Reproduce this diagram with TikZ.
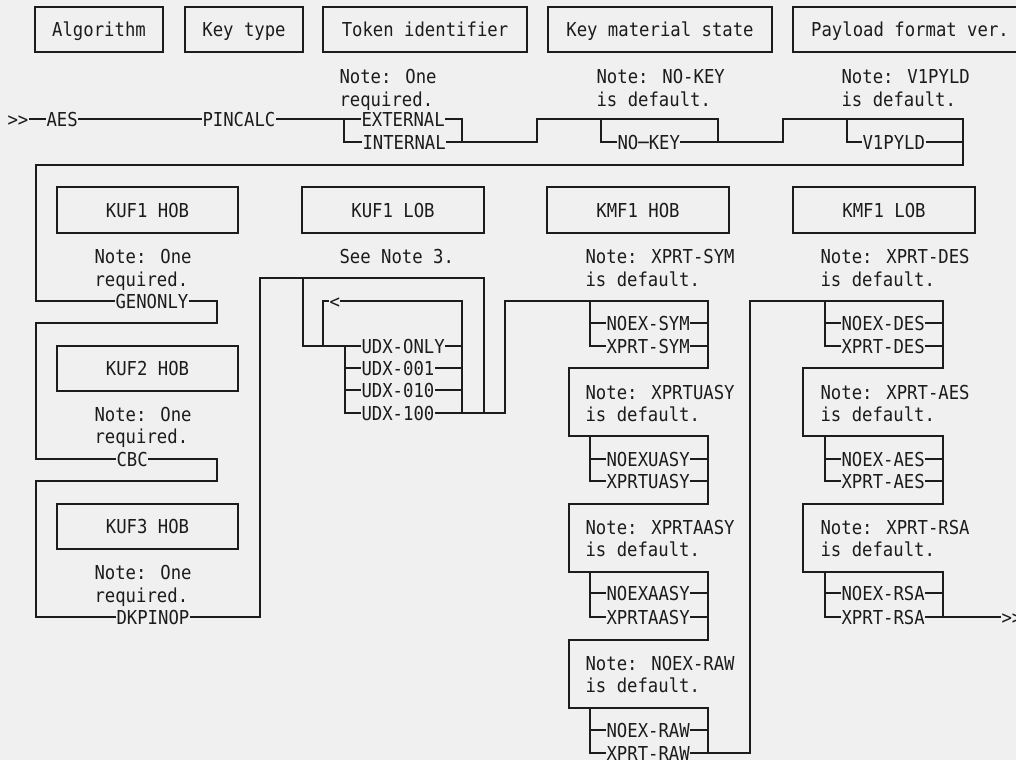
\documentclass[tikz,border=0pt]{standalone}
\usepackage{fontspec}
\newfontfamily\rrmono[FakeStretch=0.9]{DejaVu Sans Mono}
\definecolor{bg}{HTML}{F0F0F0}
\definecolor{ink}{HTML}{1C1C1C}
\newcommand\kbox[6]{\node[bx, minimum width={0.75pt*(#4-#2)}, minimum height={0.75pt*(#5-#3)}] (#1) at ({(#2+#4)/2},{(#3+#5)/2}) {#6};}
\newcommand\mytx[4]{\node[txt] (#1) at (#2,#3) {#4};}
\begin{document}
\begin{tikzpicture}[x=0.75pt,y=-0.75pt, line width=0.8pt, color=ink,
  txt/.style={inner sep=0pt, font={\rrmono\fontsize{14.4pt}{17pt}\selectfont}, text height=10.5pt, text depth=0pt, anchor=west},
  bx/.style={draw, inner sep=0pt, font={\rrmono\fontsize{14.4pt}{17pt}\selectfont}, text height=10.5pt, text depth=0pt}]
\fill[bg] (0,0) rectangle (1016,760);
\useasboundingbox (0,0) rectangle (1016,760);

% ---------- top header boxes ----------
\kbox{balg}{35}{7}{163}{52}{Algorithm}
\kbox{bkey}{185}{7}{303}{52}{Key type}
\kbox{btok}{323}{7}{527}{52}{Token identifier}
\kbox{bkms}{548}{7}{772}{52}{Key material state}
\kbox{bpay}{793}{7}{1027}{52}{Payload format ver.}

\mytx{naa}{339}{76}{Note: One}
\mytx{nab}{339}{99}{required.}
\mytx{nba}{596}{76}{Note: NO-KEY}
\mytx{nbb}{596}{99}{is default.}
\mytx{nca}{841}{76}{Note: V1PYLD}
\mytx{ncb}{841}{99}{is default.}

% ---------- main row ----------
\mytx{start}{7}{119}{>>}
\mytx{aes}{46}{119}{AES}
\mytx{pin}{202}{119}{PINCALC}
\mytx{ext}{361}{119}{EXTERNAL}
\mytx{int}{362}{142}{INTERNAL}
\mytx{nokey}{617}{142}{NO─KEY}
\mytx{vone}{862}{142}{V1PYLD}

% ---------- left column ----------
\kbox{bkufa}{57}{187}{238}{233}{KUF1 HOB}
\mytx{kaa}{94}{256}{Note: One}
\mytx{kab}{94}{279}{required.}
\mytx{gen}{115}{301}{GENONLY}
\kbox{bkufb}{57}{346}{238}{391}{KUF2 HOB}
\mytx{kba}{94}{414}{Note: One}
\mytx{kbb}{94}{436}{required.}
\mytx{cbc}{116}{459}{CBC}
\kbox{bkufc}{57}{504}{238}{549}{KUF3 HOB}
\mytx{kca}{94}{572}{Note: One}
\mytx{kcb}{94}{595}{required.}
\mytx{dk}{116}{617}{DKPINOP}

% ---------- KUF1 LOB ----------
\kbox{bkufl}{302}{187}{484}{233}{KUF1 LOB}
\mytx{see}{339}{256}{See Note 3.}
\mytx{lt}{329}{301}{<}
\mytx{udxo}{361}{346}{UDX-ONLY}
\mytx{uone}{361}{368}{UDX-001}
\mytx{utwo}{361}{390}{UDX-010}
\mytx{uthr}{361}{413}{UDX-100}

% ---------- KMF1 HOB ----------
\kbox{bkmfh}{547}{187}{729}{233}{KMF1 HOB}
\mytx{mha}{585}{256}{Note: XPRT-SYM}
\mytx{mhb}{585}{279}{is default.}
\mytx{nsym}{606}{323}{NOEX-SYM}
\mytx{xsym}{606}{346}{XPRT-SYM}
\mytx{mua}{585}{392}{Note: XPRTUASY}
\mytx{mub}{585}{414}{is default.}
\mytx{nuas}{606}{459}{NOEXUASY}
\mytx{xuas}{606}{481}{XPRTUASY}
\mytx{maa}{585}{527}{Note: XPRTAASY}
\mytx{mab}{585}{549}{is default.}
\mytx{naas}{606}{593}{NOEXAASY}
\mytx{xaas}{606}{617}{XPRTAASY}
\mytx{mra}{585}{663}{Note: NOEX-RAW}
\mytx{mrb}{585}{685}{is default.}
\mytx{nraw}{606}{730}{NOEX-RAW}
\mytx{xraw}{606}{753}{XPRT-RAW}

% ---------- KMF1 LOB ----------
\kbox{bkmfl}{793}{187}{975}{233}{KMF1 LOB}
\mytx{mla}{820}{256}{Note: XPRT-DES}
\mytx{mlb}{820}{279}{is default.}
\mytx{ndes}{841}{323}{NOEX-DES}
\mytx{xdes}{841}{346}{XPRT-DES}
\mytx{mea}{820}{392}{Note: XPRT-AES}
\mytx{meb}{820}{414}{is default.}
\mytx{naes}{841}{459}{NOEX-AES}
\mytx{xaes}{841}{481}{XPRT-AES}
\mytx{msa}{820}{527}{Note: XPRT-RSA}
\mytx{msb}{820}{549}{is default.}
\mytx{nrsa}{841}{593}{NOEX-RSA}
\mytx{xrsa}{841}{617}{XPRT-RSA}
\mytx{fin}{1001}{617}{>>}

% ================= connectors =================
\draw (start.east) -- (aes.west);
\draw (aes.east) -- (pin.west);
\draw (pin.east) -- (ext.west);
\draw (344,119) |- (int.west);
\draw (ext.east) -| (462,142);
\draw (int.east) -- (537,142) |- (718,119) -- (718,142);
\draw (601,119) |- (nokey.west);
\draw (nokey.east) -- (783,142) |- (963,119) -- (963,165) -| (36,301) -- (gen.west);
\draw (847,119) |- (vone.west);
\draw (vone.east) -- (963,142);

\draw (gen.east) -- (217,301) |- (36,323) |- (cbc.west);
\draw (cbc.east) -- (217,459) |- (36,481) |- (dk.west);
\draw (dk.east) -- (260,617) |- (484,278) -- (484,413);

\draw (303,278) |- (udxo.west);
\draw (323,346) |- (lt.west);
\draw (lt.east) -| (462,413);
\draw (345,346) |- (uthr.west);
\draw (345,368) -- (uone.west);
\draw (345,390) -- (utwo.west);
\draw (udxo.east) -- (462,346);
\draw (uone.east) -- (462,368);
\draw (utwo.east) -- (462,390);
\draw (uthr.east) -- (505,413) |- (708,301) -- (708,368) -| (569,436) -- (708,436) -- (708,504) -| (569,572) -- (708,572) -- (708,640) -| (569,708) -- (708,708) -- (708,753);

\draw (590,301) |- (xsym.west);
\draw (590,323) -- (nsym.west);
\draw (nsym.east) -- (708,323);
\draw (xsym.east) -- (708,346);
\draw (590,436) |- (xuas.west);
\draw (590,459) -- (nuas.west);
\draw (nuas.east) -- (708,459);
\draw (xuas.east) -- (708,481);
\draw (590,572) |- (xaas.west);
\draw (590,593) -- (naas.west);
\draw (naas.east) -- (708,593);
\draw (xaas.east) -- (708,617);
\draw (590,708) |- (xraw.west);
\draw (590,730) -- (nraw.west);
\draw (nraw.east) -- (708,730);
\draw (xraw.east) -- (750,753) |- (943,301) -- (943,368) -| (803,436) -- (943,436) -- (943,504) -| (803,572) -- (943,572) -- (943,617);

\draw (825,301) |- (xdes.west);
\draw (825,323) -- (ndes.west);
\draw (ndes.east) -- (943,323);
\draw (xdes.east) -- (943,346);
\draw (825,436) |- (xaes.west);
\draw (825,459) -- (naes.west);
\draw (naes.east) -- (943,459);
\draw (xaes.east) -- (943,481);
\draw (825,572) |- (xrsa.west);
\draw (825,593) -- (nrsa.west);
\draw (nrsa.east) -- (943,593);
\draw (xrsa.east) -- (fin.west);
\end{tikzpicture}
\end{document}
